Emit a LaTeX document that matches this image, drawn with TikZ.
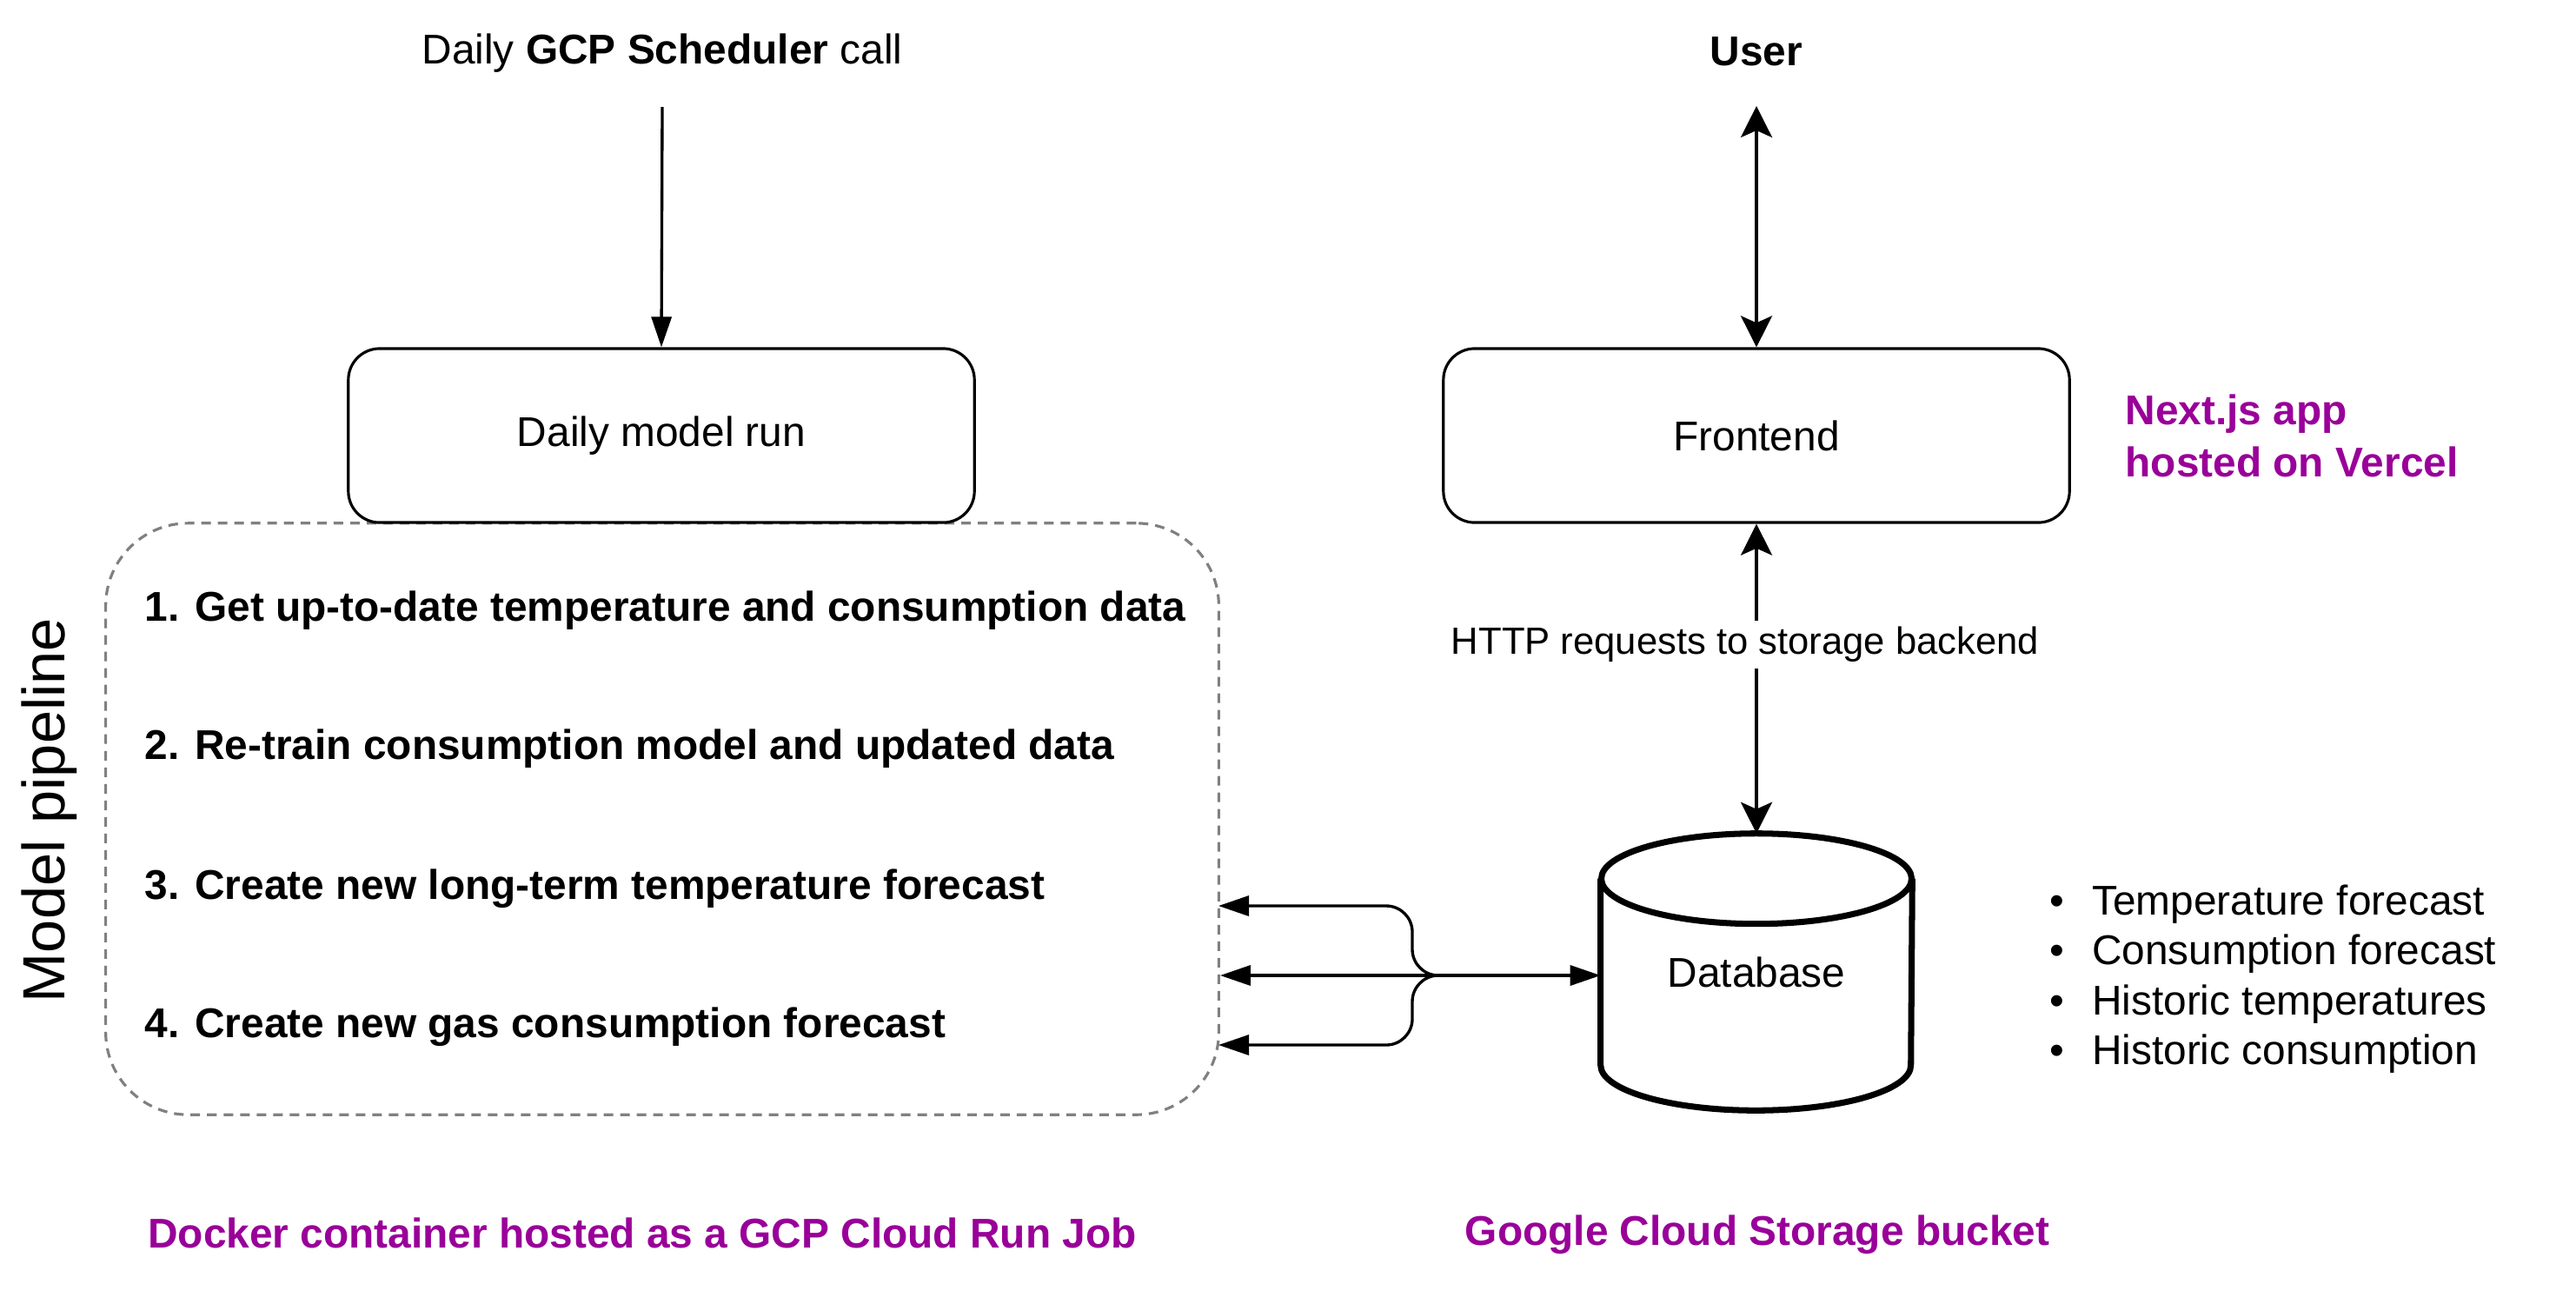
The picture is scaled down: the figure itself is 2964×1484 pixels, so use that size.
\documentclass[tikz,border=0pt]{standalone}
\usepackage{fontspec}
\setmainfont{Liberation Sans}
\usetikzlibrary{arrows.meta,calc}
\definecolor{notepurple}{RGB}{153,0,153}

\begin{document}
\begin{tikzpicture}[x=0.01cm,y=-0.01cm,
  every node/.style={font=\fontsize{13.6}{16.3}\selectfont, inner sep=0pt},
  runbox/.style={draw, line width=0.9pt, rounded corners=0.36cm, minimum width=7.2cm, minimum height=2cm, fill=white},
  stepline/.style={anchor=west, font=\fontsize{13.6}{16.3}\selectfont\bfseries},
  note/.style={text=notepurple, font=\fontsize{13.6}{17}\selectfont\bfseries},
  wire/.style={line width=0.95pt},
  dbline/.style={line width=2pt},
  tri/.tip={Triangle[length=0.35cm,width=0.23cm]},
  stl/.tip={Stealth[length=0.36cm,width=0.36cm,inset=0.08cm]}]
\useasboundingbox (0,0) rectangle (2964,1484);
% Drawing the pipeline frame
\node[draw=gray, dash pattern=on 0.11cm off 0.08cm, line width=0.9pt, rounded corners=0.95cm, minimum width=12.8cm, minimum height=6.8cm] (pipeline) at (762,942) {};
\node[rotate=90, font=\fontsize{19.5}{23}\selectfont] (pipelabel) at (57,932) {Model pipeline};
% Steps of the pipeline
\node[stepline] (step1) at (166,702) {1. Get up-to-date temperature and consumption data};
\node[stepline] (step2) at (166,861) {2. Re-train consumption model and updated data};
\node[stepline] (step3) at (166,1022) {3. Create new long-term temperature forecast};
\node[stepline] (step4) at (166,1181) {4. Create new gas consumption forecast};
% Scheduler and model run
\node (sched) at (762,61) {Daily \textbf{GCP Scheduler} call};
\coordinate (schedout) at (762,123);
\node[runbox] (run) at (761,501) {Daily model run};
\draw[wire,-tri] (schedout) -- (run.north);
% Frontend and user
\node (user) at (2021,59) {\textbf{User}};
\coordinate (userin) at (2021,122);
\node[runbox] (frontend) at (2021,501) {Frontend};
\draw[wire,stl-stl] (userin) -- (frontend.north);
\node[note, anchor=west, align=left] (nextjs) at (2445,501) {Next.js app\\hosted on Vercel};
% Database cylinder
\node[minimum width=3.57cm, minimum height=3.17cm] (db) at (2021,1118) {Database};
\draw[dbline] ($(db.north west)+(0,52)$) -- ($(db.south west)+(0,-52)$)
  arc[start angle=180, end angle=0, x radius=178.5, y radius=52] -- ($(db.north east)+(0,52)$);
\draw[dbline] ($(db.north)+(0,52)$) ellipse[x radius=178.5, y radius=52];
\draw[wire,stl-stl] (frontend.south) -- node[pos=0.39, fill=white, inner ysep=2pt, xshift=-0.13cm, font=\fontsize{12.4}{15}\selectfont] (http) {HTTP requests to storage backend} (db.north);
% Pipeline <-> database
\coordinate (fork) at (1657,1122);
\coordinate (in3) at (1402,1042);
\coordinate (in4) at (1402,1202);
\draw[wire,tri-tri] (pipeline.east |- fork) -- (db.west |- fork);
\draw[wire,-tri,rounded corners=0.3cm] (fork) -- ++(-32,0) |- (in3);
\draw[wire,-tri,rounded corners=0.3cm] (fork) -- ++(-32,0) |- (in4);
\node[anchor=west, align=left] (facts) at (2358,1126) {\textbullet\hspace{9pt}Temperature forecast\\
  \textbullet\hspace{9pt}Consumption forecast\\
  \textbullet\hspace{9pt}Historic temperatures\\
  \textbullet\hspace{9pt}Historic consumption};
% Done with shapes; hosting notes
\node[note] (docker) at (739,1418) {Docker container hosted as a GCP Cloud Run Job};
\node[note] (gcs) at (2022,1420) {Google Cloud Storage bucket};
\end{tikzpicture}
\end{document}
